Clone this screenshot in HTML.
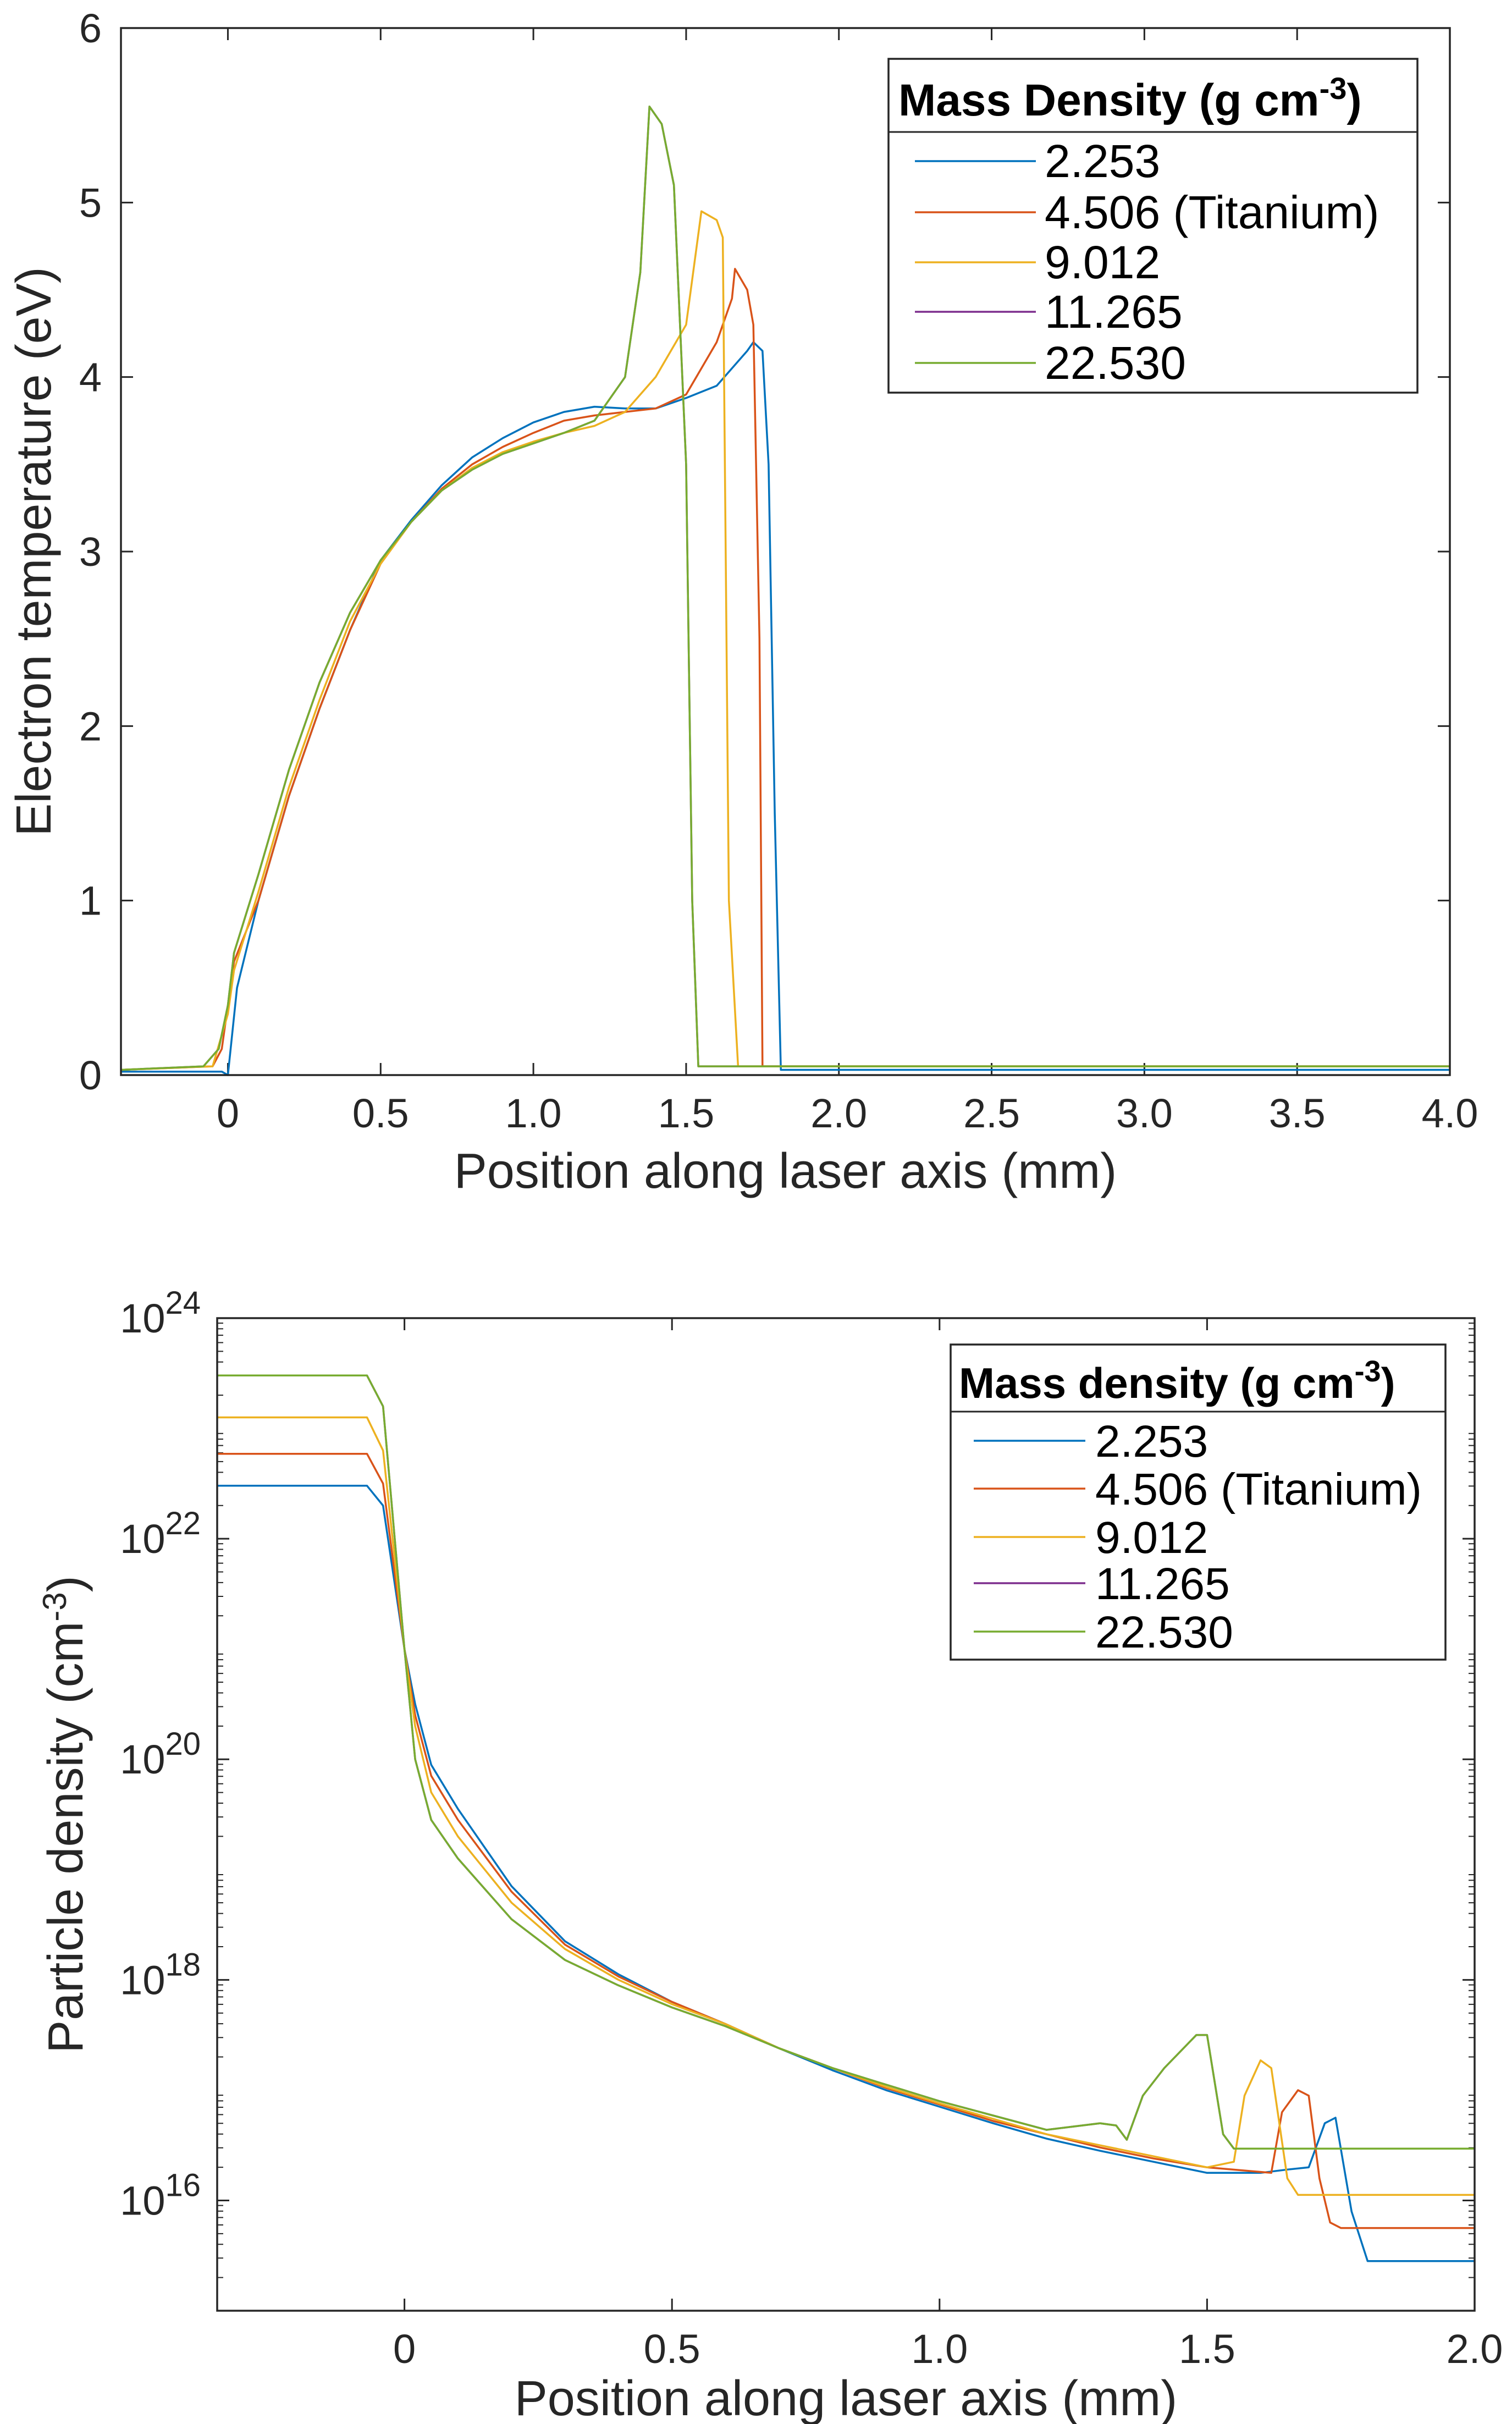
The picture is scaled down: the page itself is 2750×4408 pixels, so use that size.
<!DOCTYPE html>
<html><head><meta charset="utf-8"><style>
body{margin:0;background:#fff;}
svg{display:block;font-family:"Liberation Sans","DejaVu Sans",sans-serif;}
</style></head><body>
<svg id="fig" width="2750" height="4408" viewBox="0 0 2750 4408" xmlns="http://www.w3.org/2000/svg">
<rect width="2750" height="4408" fill="#fff"/>
<g id="top"></g>
<g id="bot"></g>
</svg>
<script>
// ---------- DATA: top chart (electron temperature, eV) ----------
const seriesNames = ["2.253","4.506 (Titanium)","9.012","11.265","22.530"];
const seriesColors = ["#0072BD","#D95319","#EDB120","#7E2F8E","#77AC30"];
const tXTicks = [0,0.5,1.0,1.5,2.0,2.5,3.0,3.5,4.0];
const tXTickLabels = ["0","0.5","1.0","1.5","2.0","2.5","3.0","3.5","4.0"];
const tYTicks = [0,1,2,3,4,5,6];
const tBlueX = [-0.35,-0.02,0,0.03,0.1,0.2,0.3,0.4,0.5,0.6,0.7,0.8,0.9,1.0,1.1,1.2,1.3,1.4,1.5,1.6,1.7,1.72,1.75,1.77,1.79,1.81,4.0];
const tBlueY = [0.02,0.02,0.0,0.5,1.0,1.6,2.1,2.55,2.95,3.18,3.38,3.54,3.65,3.74,3.8,3.83,3.82,3.82,3.88,3.95,4.15,4.2,4.15,3.5,1.5,0.03,0.03];
const tRedX = [-0.35,-0.05,-0.02,0,0.02,0.1,0.2,0.3,0.4,0.5,0.6,0.7,0.8,0.9,1.0,1.1,1.2,1.3,1.4,1.5,1.6,1.65,1.66,1.7,1.72,1.74,1.75,4.0];
const tRedY = [0.03,0.05,0.15,0.4,0.65,1.0,1.6,2.1,2.55,2.93,3.17,3.36,3.5,3.6,3.68,3.75,3.78,3.8,3.82,3.9,4.2,4.45,4.62,4.5,4.3,2.5,0.05,0.05];
const tYelX = [-0.35,-0.05,0,0.02,0.1,0.2,0.3,0.4,0.5,0.6,0.7,0.8,0.9,1.0,1.1,1.2,1.3,1.4,1.5,1.55,1.6,1.62,1.64,1.67,4.0];
const tYelY = [0.03,0.05,0.35,0.6,1.05,1.65,2.15,2.6,2.93,3.17,3.35,3.48,3.57,3.63,3.68,3.72,3.8,4.0,4.3,4.95,4.9,4.8,1.0,0.05,0.05];
const tGrnX = [-0.35,-0.08,-0.03,0,0.02,0.1,0.2,0.3,0.4,0.5,0.6,0.7,0.8,0.9,1.0,1.1,1.2,1.3,1.35,1.38,1.42,1.46,1.5,1.52,1.54,4.0];
const tGrnY = [0.03,0.05,0.15,0.4,0.7,1.15,1.75,2.25,2.65,2.95,3.17,3.35,3.47,3.56,3.62,3.68,3.75,4.0,4.6,5.55,5.45,5.1,3.5,1.0,0.05,0.05];
// ---------- DATA: bottom chart (log10 particle density, cm^-3) ----------
const bXTicks = [0,0.5,1.0,1.5,2.0];
const bXTickLabels = ["0","0.5","1.0","1.5","2.0"];
const bYTickExps = [16,18,20,22,24];
const bBlueX = [-0.35,-0.07,-0.04,0,0.02,0.05,0.1,0.2,0.3,0.4,0.5,0.6,0.7,0.8,0.9,1.0,1.1,1.2,1.3,1.4,1.5,1.6,1.65,1.69,1.72,1.74,1.77,1.8,2.0];
const bBlueY = [22.48,22.48,22.3,21.0,20.5,19.95,19.55,18.85,18.35,18.05,17.8,17.6,17.38,17.18,17.0,16.85,16.7,16.56,16.45,16.35,16.25,16.25,16.28,16.3,16.7,16.75,15.9,15.45,15.45];
const bRedX = [-0.35,-0.07,-0.04,0,0.02,0.05,0.1,0.2,0.3,0.4,0.5,0.6,0.7,0.8,0.9,1.0,1.1,1.2,1.3,1.4,1.5,1.62,1.64,1.67,1.69,1.71,1.73,1.75,2.0];
const bRedY = [22.77,22.77,22.5,21.0,20.4,19.85,19.45,18.8,18.32,18.03,17.8,17.6,17.38,17.2,17.02,16.87,16.72,16.6,16.48,16.38,16.3,16.25,16.8,17.0,16.95,16.2,15.8,15.75,15.75];
const bYelX = [-0.35,-0.07,-0.04,0,0.02,0.05,0.1,0.2,0.3,0.4,0.5,0.6,0.7,0.8,0.9,1.0,1.1,1.2,1.3,1.4,1.5,1.55,1.57,1.6,1.62,1.65,1.67,2.0];
const bYelY = [23.1,23.1,22.8,21.0,20.3,19.7,19.3,18.7,18.28,18.0,17.78,17.6,17.38,17.2,17.03,16.88,16.74,16.6,16.5,16.4,16.3,16.35,16.95,17.27,17.2,16.2,16.05,16.05];
const bGrnX = [-0.35,-0.07,-0.04,0,0.02,0.05,0.1,0.2,0.3,0.4,0.5,0.6,0.7,0.8,0.9,1.0,1.1,1.2,1.3,1.33,1.35,1.38,1.42,1.48,1.5,1.53,1.55,2.0];
const bGrnY = [23.48,23.48,23.2,21.0,20.0,19.45,19.1,18.55,18.18,17.95,17.75,17.58,17.38,17.2,17.05,16.9,16.77,16.64,16.7,16.68,16.55,16.95,17.2,17.5,17.5,16.6,16.47,16.47];

const NS="http://www.w3.org/2000/svg";
function mk(parent,tag,attrs,text){const e=document.createElementNS(NS,tag);for(const k in attrs)e.setAttribute(k,attrs[k]);if(text!==undefined)e.textContent=text;parent.appendChild(e);return e;}

// ---------- TOP CHART ----------
(function(){
const g=document.getElementById('top');
const L=220,R=2637,T=51,B=1955,x0=-0.35,x1=4.0,y0=0,y1=6;
const sx=v=>L+(v-x0)/(x1-x0)*(R-L), sy=v=>B-(v-y0)/(y1-y0)*(B-T);
tXTicks.forEach((v,i)=>{
  const t=mk(g,'path',{d:`M${sx(v)},${B}v-22M${sx(v)},${T}v22`,stroke:'#262626','stroke-width':3});
  
  const l=mk(g,'text',{x:sx(v),y:B+95,'font-size':74,'text-anchor':'middle',fill:'#262626'},tXTickLabels[i]);
  
});
tYTicks.forEach(v=>{
  const t=mk(g,'path',{d:`M${L},${sy(v)}h22M${R},${sy(v)}h-22`,stroke:'#262626','stroke-width':3});
  
  const l=mk(g,'text',{x:L-35,y:sy(v)+26,'font-size':74,'text-anchor':'end',fill:'#262626'},String(v));
  
});
const xs=[tBlueX,tRedX,tYelX,tGrnX,tGrnX], ys=[tBlueY,tRedY,tYelY,tGrnY,tGrnY];
[3,0,1,2,4].forEach(i=>{
  const d=xs[i].map((v,j)=>(j?'L':'M')+sx(v).toFixed(1)+','+sy(ys[i][j]).toFixed(1)).join('');
  const p=mk(g,'path',{d:d,fill:'none',stroke:seriesColors[i],'stroke-width':3.5,'stroke-linejoin':'round'});
  
  
});
const ax=mk(g,'rect',{x:L,y:T,width:R-L,height:B-T,fill:'none',stroke:'#262626','stroke-width':3.5});

const xl=mk(g,'text',{x:(L+R)/2,y:2160,'font-size':90,'text-anchor':'middle',fill:'#262626'},'Position along laser axis (mm)');

const yl=mk(g,'text',{x:0,y:0,'font-size':90,'text-anchor':'middle',fill:'#262626',transform:`translate(92,${(T+B)/2}) rotate(-90)`},'Electron temperature (eV)');

// legend
const lg=mk(g,'g',{});
mk(lg,'rect',{x:1616,y:107,width:962,height:607,fill:'#fff',stroke:'#262626','stroke-width':3.5});
mk(lg,'line',{x1:1616,y1:240,x2:2578,y2:240,stroke:'#262626','stroke-width':3});
const tt=mk(lg,'text',{x:1634,y:210,'font-size':82,'font-weight':'bold',fill:'#000'});

tt.innerHTML='Mass Density (g cm<tspan dy="-30" font-size="56">-3</tspan><tspan dy="30">)</tspan>';
const ey=[293,386,477,567,660];
seriesNames.forEach((n,i)=>{
  const e=mk(lg,'g',{});
  mk(e,'line',{x1:1664,y1:ey[i],x2:1884,y2:ey[i],stroke:seriesColors[i],'stroke-width':3.5});
  mk(e,'text',{x:1900,y:ey[i]+29,'font-size':84,fill:'#000'},n);
});
})();

// ---------- BOTTOM CHART ----------
(function(){
const g=document.getElementById('bot');
const L=395,R=2682,T=2397,B=4202,x0=-0.35,x1=2.0,e0=15,e1=24;
const sx=v=>L+(v-x0)/(x1-x0)*(R-L), sy=v=>B-(v-e0)/(e1-e0)*(B-T);
bXTicks.forEach((v,i)=>{
  const t=mk(g,'path',{d:`M${sx(v)},${B}v-22M${sx(v)},${T}v22`,stroke:'#262626','stroke-width':3});
  
  const l=mk(g,'text',{x:sx(v),y:B+95,'font-size':74,'text-anchor':'middle',fill:'#262626'},bXTickLabels[i]);
  
});
for(let e=e0;e<e1;e++){for(let m=2;m<10;m++){const y=sy(e+Math.log10(m));
  const t=mk(g,'path',{d:`M${L},${y}h11M${R},${y}h-11`,stroke:'#262626','stroke-width':2});
  }}
bYTickExps.forEach(v=>{
  const t=mk(g,'path',{d:`M${L},${sy(v)}h22M${R},${sy(v)}h-22`,stroke:'#262626','stroke-width':3});
  
  const l=mk(g,'text',{x:L-30,y:sy(v)+26,'font-size':74,'text-anchor':'end',fill:'#262626'});
  
  l.innerHTML='10<tspan dy="-34" font-size="58">'+v+'</tspan>';
});
const xs=[bBlueX,bRedX,bYelX,bGrnX,bGrnX], ys=[bBlueY,bRedY,bYelY,bGrnY,bGrnY];
[3,0,1,2,4].forEach(i=>{
  const d=xs[i].map((v,j)=>(j?'L':'M')+sx(v).toFixed(1)+','+sy(ys[i][j]).toFixed(1)).join('');
  const p=mk(g,'path',{d:d,fill:'none',stroke:seriesColors[i],'stroke-width':3.5,'stroke-linejoin':'round'});
  
  
});
const ax=mk(g,'rect',{x:L,y:T,width:R-L,height:B-T,fill:'none',stroke:'#262626','stroke-width':3.5});

const xl=mk(g,'text',{x:(L+R)/2,y:4392,'font-size':90,'text-anchor':'middle',fill:'#262626'},'Position along laser axis (mm)');

const yl=mk(g,'text',{x:0,y:0,'font-size':90,'text-anchor':'middle',fill:'#262626',transform:`translate(150,${(T+B)/2}) rotate(-90)`});

yl.innerHTML='Particle density (cm<tspan dy="-30" font-size="60">-3</tspan><tspan dy="30">)</tspan>';
const lg=mk(g,'g',{});
mk(lg,'rect',{x:1729,y:2445,width:900,height:573,fill:'#fff',stroke:'#262626','stroke-width':3.5});
mk(lg,'line',{x1:1729,y1:2567,x2:2629,y2:2567,stroke:'#262626','stroke-width':3});
const tt=mk(lg,'text',{x:1744,y:2542,'font-size':78,'font-weight':'bold',fill:'#000'});

tt.innerHTML='Mass density (g cm<tspan dy="-30" font-size="54">-3</tspan><tspan dy="30">)</tspan>';
const ey=[2620,2707,2795,2879,2967];
seriesNames.forEach((n,i)=>{
  const e=mk(lg,'g',{});
  mk(e,'line',{x1:1771,y1:ey[i],x2:1974,y2:ey[i],stroke:seriesColors[i],'stroke-width':3.5});
  mk(e,'text',{x:1992,y:ey[i]+29,'font-size':82,fill:'#000'},n);
});
})();
</script>
</body></html>
